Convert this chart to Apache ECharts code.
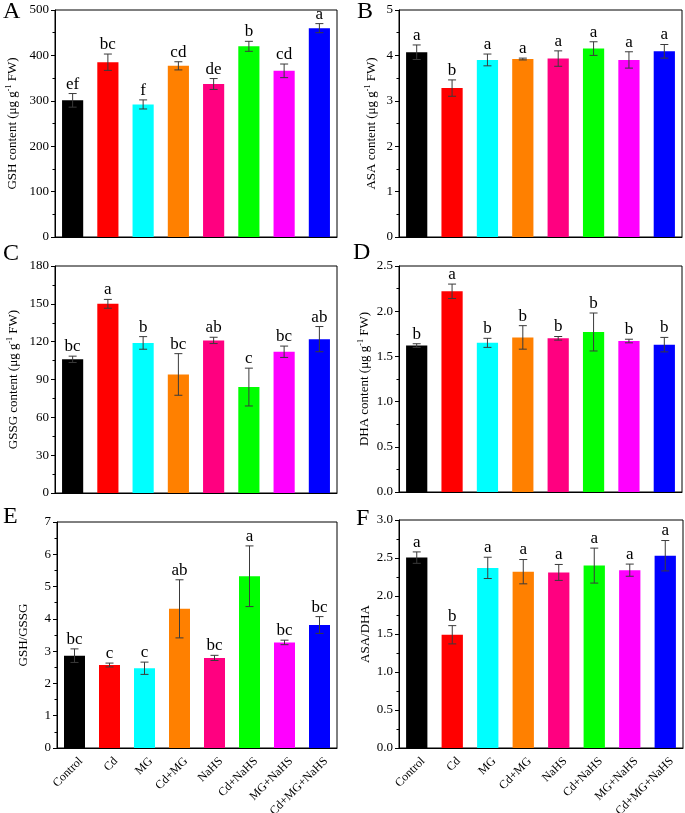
<!DOCTYPE html>
<html>
<head>
<meta charset="utf-8">
<script src="https://cdn.jsdelivr.net/npm/echarts@6/dist/echarts.min.js"></script>
<style>
  html, body { margin: 0; padding: 0; background: #fff; }
  #chart { width: 685px; height: 813px; }
</style>
</head>
<body>
<div id="chart"></div>
<script>
const groups = ['Control', 'Cd', 'MG', 'Cd+MG', 'NaHS', 'Cd+NaHS', 'MG+NaHS', 'Cd+MG+NaHS'];
const barColors = ['#000000', '#ff0000', '#00ffff', '#ff8000', '#ff0080', '#00ff00', '#ff00ff', '#0000ff'];

// A - GSH
const gshMean = [301, 385, 292, 377, 337, 420, 366, 460];
const gshErr = [15, 18, 10, 9, 12, 11, 15, 10];
const gshLetters = ['ef', 'bc', 'f', 'cd', 'de', 'b', 'cd', 'a'];
// B - ASA
const asaMean = [4.07, 3.28, 3.90, 3.92, 3.93, 4.15, 3.90, 4.09];
const asaErr = [0.16, 0.18, 0.13, 0.02, 0.17, 0.15, 0.18, 0.15];
const asaLetters = ['a', 'b', 'a', 'a', 'a', 'a', 'a', 'a'];
// C - GSSG
const gssgMean = [106, 150, 119, 94, 121, 84, 112, 122];
const gssgErr = [2.5, 3.5, 5, 16.5, 2.5, 15, 4.5, 10];
const gssgLetters = ['bc', 'a', 'b', 'bc', 'ab', 'c', 'bc', 'ab'];
// D - DHA
const dhaMean = [1.62, 2.22, 1.65, 1.71, 1.70, 1.77, 1.67, 1.63];
const dhaErr = [0.02, 0.08, 0.05, 0.13, 0.02, 0.21, 0.02, 0.08];
const dhaLetters = ['b', 'a', 'b', 'b', 'b', 'b', 'b', 'b'];
// E - GSH/GSSG
const gshRatioMean = [2.86, 2.57, 2.47, 4.31, 2.79, 5.32, 3.27, 3.81];
const gshRatioErr = [0.21, 0.06, 0.19, 0.9, 0.08, 0.94, 0.07, 0.26];
const gshRatioLetters = ['bc', 'c', 'c', 'ab', 'bc', 'a', 'bc', 'bc'];
// F - ASA/DHA
const asaRatioMean = [2.505, 1.49, 2.37, 2.32, 2.31, 2.40, 2.34, 2.53];
const asaRatioErr = [0.075, 0.12, 0.14, 0.16, 0.105, 0.23, 0.08, 0.2];
const asaRatioLetters = ['a', 'b', 'a', 'a', 'a', 'a', 'a', 'a'];

const serif = '"Liberation Serif", "Times New Roman", serif';

const panels = [
  { tag: 'A', mean: gshMean, err: gshErr, letters: gshLetters, max: 500, step: 100, dec: 0,
    name: 'GSH content (μg g{s|-1} FW)', nameGap: 35, grid: { left: 55, width: 282, top: 10, height: 227 } },
  { tag: 'B', mean: asaMean, err: asaErr, letters: asaLetters, max: 5, step: 1, dec: 0,
    name: 'ASA content (μg g{s|-1} FW)', nameGap: 20, grid: { left: 399, width: 283, top: 10, height: 227 } },
  { tag: 'C', mean: gssgMean, err: gssgErr, letters: gssgLetters, max: 180, step: 30, dec: 0,
    name: 'GSSG content (μg g{s|-1} FW)', nameGap: 34, grid: { left: 55, width: 282, top: 266, height: 227 } },
  { tag: 'D', mean: dhaMean, err: dhaErr, letters: dhaLetters, max: 2.5, step: 0.5, dec: 1,
    name: 'DHA content (μg g{s|-1} FW)', nameGap: 27, grid: { left: 399, width: 283, top: 266, height: 226 } },
  { tag: 'E', mean: gshRatioMean, err: gshRatioErr, letters: gshRatioLetters, max: 7, step: 1, dec: 0,
    name: 'GSH/GSSG', nameGap: 27, grid: { left: 57, width: 280, top: 522, height: 226 }, labels: true },
  { tag: 'F', mean: asaRatioMean, err: asaRatioErr, letters: asaRatioLetters, max: 3, step: 0.5, dec: 1,
    name: 'ASA/DHA', nameGap: 27, grid: { left: 399, width: 284, top: 520, height: 228 }, labels: true },
];

const tagPos = [[3, 0], [357, 0], [3, 242], [353, 241], [3, 505], [356, 507]];

const grids = [], xAxes = [], yAxes = [], series = [], graphics = [];

panels.forEach((p, i) => {
  grids.push(Object.assign({
    show: true, borderColor: '#000', borderWidth: 1, backgroundColor: 'transparent',
    containLabel: false, outerBoundsMode: 'none',
  }, p.grid));

  xAxes.push({
    type: 'category', gridIndex: i, data: groups,
    axisLine: { lineStyle: { color: '#000', width: 1 } },
    axisTick: { alignWithLabel: true, length: 5, lineStyle: { color: '#000' } },
    axisLabel: {
      show: !!p.labels, interval: 0, rotate: 45, margin: 5,
      verticalAlign: 'top', padding: [3, 0, 0, 0],
      color: '#000', fontFamily: serif, fontSize: 12,
    },
  });
  // minor ticks between categories
  xAxes.push({
    type: 'category', gridIndex: i, data: groups, position: 'bottom',
    axisLine: { show: false },
    axisTick: { length: 3, lineStyle: { color: '#000' } },
    axisLabel: { show: false },
  });

  yAxes.push({
    type: 'value', gridIndex: i, min: 0, max: p.max, interval: p.step,
    name: p.name, nameLocation: 'middle', nameGap: p.nameGap,
    nameTextStyle: {
      fontFamily: serif, fontSize: 13, color: '#000',
      rich: { s: { fontFamily: serif, fontSize: 8, color: '#000', padding: [0, 0, 7, 0] } },
    },
    axisLine: { show: true, lineStyle: { color: '#000', width: 1 } },
    axisTick: { show: true, length: 4, lineStyle: { color: '#000' } },
    minorTick: { show: true, splitNumber: 2, length: 2.5, lineStyle: { color: '#000' } },
    splitLine: { show: false },
    axisLabel: {
      margin: 6, color: '#000', fontFamily: serif, fontSize: 13,
      formatter: (v) => v.toFixed(p.dec),
    },
  });

  series.push({
    type: 'bar', xAxisIndex: i * 2, yAxisIndex: i,
    barWidth: '60%',
    data: p.mean.map((v, k) => ({ value: v, itemStyle: { color: barColors[k] } })),
    silent: true,
  });

  series.push({
    type: 'custom', xAxisIndex: i * 2, yAxisIndex: i,
    data: p.mean.map((v, k) => [k, v, p.err[k]]),
    renderItem: (params, api) => {
      const x = api.value(0), v = api.value(1), e = api.value(2);
      const top = api.coord([x, v + e]);
      const bot = api.coord([x, v - e]);
      const cap = 4;
      const st = { stroke: '#3a3a3a', lineWidth: 1 };
      return {
        type: 'group',
        children: [
          { type: 'line', shape: { x1: top[0], y1: top[1], x2: bot[0], y2: bot[1] }, style: st },
          { type: 'line', shape: { x1: top[0] - cap, y1: top[1], x2: top[0] + cap, y2: top[1] }, style: st },
          { type: 'line', shape: { x1: bot[0] - cap, y1: bot[1], x2: bot[0] + cap, y2: bot[1] }, style: st },
          {
            type: 'text', x: top[0], y: top[1] - 1,
            style: {
              text: p.letters[params.dataIndex], fill: '#000',
              font: '17px ' + serif, align: 'center', verticalAlign: 'bottom',
            },
          },
        ],
      };
    },
    silent: true,
    z: 5,
  });

  graphics.push({
    type: 'text', left: tagPos[i][0], top: tagPos[i][1],
    style: { text: p.tag, font: '24px ' + serif, fill: '#000' },
  });
});

const chart = echarts.init(document.getElementById('chart'));
chart.setOption({
  animation: false,
  grid: grids,
  xAxis: xAxes,
  yAxis: yAxes,
  series: series,
  graphic: graphics,
});
</script>
</body>
</html>
